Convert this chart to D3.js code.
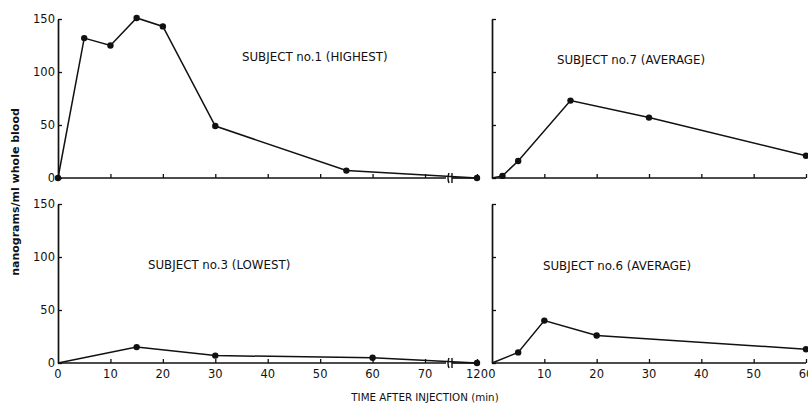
<!DOCTYPE html>
<html>
<head>
<meta charset="utf-8">
<script src="https://cdn.jsdelivr.net/npm/d3@7"></script>
<style>
  body { margin: 0; background: #fff; }
  svg text { font-family: "DejaVu Sans", sans-serif; fill: #111; }
</style>
</head>
<body>
<div id="chart"></div>
<script>
// time after injection (min) and concentration (ng/ml whole blood) per subject
const subject1Time = [0, 5, 10, 15, 20, 30, 55, 120];
const subject1Conc = [0, 132, 125, 151, 143, 49, 7, 0];
const subject7Time = [0, 2, 5, 15, 30, 60];
const subject7Conc = [0, 2, 16, 73, 57, 21];
const subject3Time = [0, 15, 30, 60, 120];
const subject3Conc = [0, 15, 7, 5, 0];
const subject6Time = [0, 5, 10, 20, 60];
const subject6Conc = [0, 10, 40, 26, 13];

const yTicks = [0, 50, 100, 150];
const leftXTicks = [10, 20, 30, 40, 50, 60, 70, 120];
const rightXTicks = [10, 20, 30, 40, 50, 60];
const leftXLabels = [0, 10, 20, 30, 40, 50, 60, 70, 120];
const rightXLabels = [0, 10, 20, 30, 40, 50, 60];

const width = 808;
const height = 405;
const breakAt = 74;

const svg = d3.select('#chart').append('svg')
  .attr('width', width)
  .attr('height', height);

// scales
const xLeft = d3.scaleLinear().domain([0, breakAt, 120]).range([58, 446, 477]);
const xRight = d3.scaleLinear().domain([0, 60]).range([492, 806]);
const yTop = d3.scaleLinear().domain([0, 150]).range([178, 19]);
const yBottom = d3.scaleLinear().domain([0, 150]).range([363, 204]);

const panels = [
  { time: subject1Time, conc: subject1Conc, x: xLeft, y: yTop, label: 'SUBJECT no.1 (HIGHEST)', lx: 242, ly: 61, left: true, bottom: false, zeroDot: true },
  { time: subject7Time, conc: subject7Conc, x: xRight, y: yTop, label: 'SUBJECT no.7 (AVERAGE)', lx: 557, ly: 64, left: false, bottom: false, zeroDot: false },
  { time: subject3Time, conc: subject3Conc, x: xLeft, y: yBottom, label: 'SUBJECT no.3 (LOWEST)', lx: 148, ly: 269, left: true, bottom: true, zeroDot: false },
  { time: subject6Time, conc: subject6Conc, x: xRight, y: yBottom, label: 'SUBJECT no.6 (AVERAGE)', lx: 543, ly: 270, left: false, bottom: true, zeroDot: false }
];

panels.forEach((p) => {
  const g = svg.append('g');
  const x0 = p.x(0);
  const base = p.y(0);

  // y axis
  const yAxis = d3.axisLeft(p.y)
    .tickValues(yTicks)
    .tickSize(-4)
    .tickSizeOuter(0)
    .tickPadding(3)
    .tickFormat(p.left ? d3.format('d') : '');
  const ya = g.append('g')
    .attr('transform', `translate(${x0},0)`)
    .call(yAxis);
  ya.select('.domain').attr('stroke', '#111').attr('stroke-width', 1.7);
  ya.selectAll('.tick line').attr('stroke', '#111').attr('stroke-width', 1.3);
  ya.selectAll('.tick text').style('font-size', '11.5px').attr('font-family', null);

  // x axis (ticks point inward)
  const xAxis = d3.axisBottom(p.x)
    .tickValues(p.left ? leftXTicks : rightXTicks)
    .tickSize(-4)
    .tickSizeOuter(0)
    .tickFormat('');
  const xa = g.append('g')
    .attr('transform', `translate(0,${base})`)
    .call(xAxis);
  xa.select('.domain').remove();
  xa.selectAll('.tick line').attr('stroke', '#111').attr('stroke-width', 1.3);

  // baseline, broken on the left panels
  const segs = p.left
    ? [[p.x(0), p.x(breakAt)], [p.x(breakAt) + 6, p.x(120) + 1]]
    : [[p.x(0), p.x(60)]];
  g.selectAll('line.base').data(segs).enter().append('line')
    .attr('class', 'base')
    .attr('x1', (d) => d[0])
    .attr('x2', (d) => d[1])
    .attr('y1', base)
    .attr('y2', base)
    .attr('stroke', '#111')
    .attr('stroke-width', 1.7);

  if (p.left) {
    const bx = p.x(breakAt);
    g.selectAll('path.brk').data([bx + 2, bx + 6]).enter().append('path')
      .attr('class', 'brk')
      .attr('d', (d, i) => i === 0
        ? `M${d + 1},${base - 5} Q${d - 1},${base} ${d + 1},${base + 5}`
        : `M${d},${base - 5} L${d},${base + 5}`)
      .attr('fill', 'none')
      .attr('stroke', '#111')
      .attr('stroke-width', 1.4);
  }

  // tick labels on the bottom panels
  if (p.bottom) {
    g.selectAll('text.xl').data(p.left ? leftXLabels : rightXLabels).enter().append('text')
      .attr('class', 'xl')
      .attr('x', (d) => p.x(d))
      .attr('y', base + 15)
      .attr('text-anchor', 'middle')
      .style('font-size', '11.5px')
      .text((d) => d);
  }

  // data line and points
  const pts = p.time.map((t, i) => [t, p.conc[i]]);
  const line = d3.line()
    .x((d) => p.x(d[0]))
    .y((d) => p.y(d[1]));
  g.append('path')
    .datum(pts)
    .attr('d', line)
    .attr('fill', 'none')
    .attr('stroke', '#111')
    .attr('stroke-width', 1.5);

  g.selectAll('circle').data(pts.filter((d) => d[0] > 0 || p.zeroDot)).enter().append('circle')
    .attr('cx', (d) => p.x(d[0]))
    .attr('cy', (d) => p.y(d[1]))
    .attr('r', 3.2)
    .attr('fill', '#111');

  g.append('text')
    .attr('x', p.lx)
    .attr('y', p.ly)
    .style('font-size', '11.8px')
    .text(p.label);
});

// axis titles
svg.append('text')
  .attr('transform', 'translate(19,192) rotate(-90)')
  .attr('text-anchor', 'middle')
  .style('font-size', '11px')
  .style('font-weight', 'bold')
  .text('nanograms/ml whole blood');

svg.append('text')
  .attr('x', 425)
  .attr('y', 401)
  .attr('text-anchor', 'middle')
  .style('font-size', '10.3px')
  .text('TIME AFTER INJECTION (min)');
</script>
</body>
</html>
